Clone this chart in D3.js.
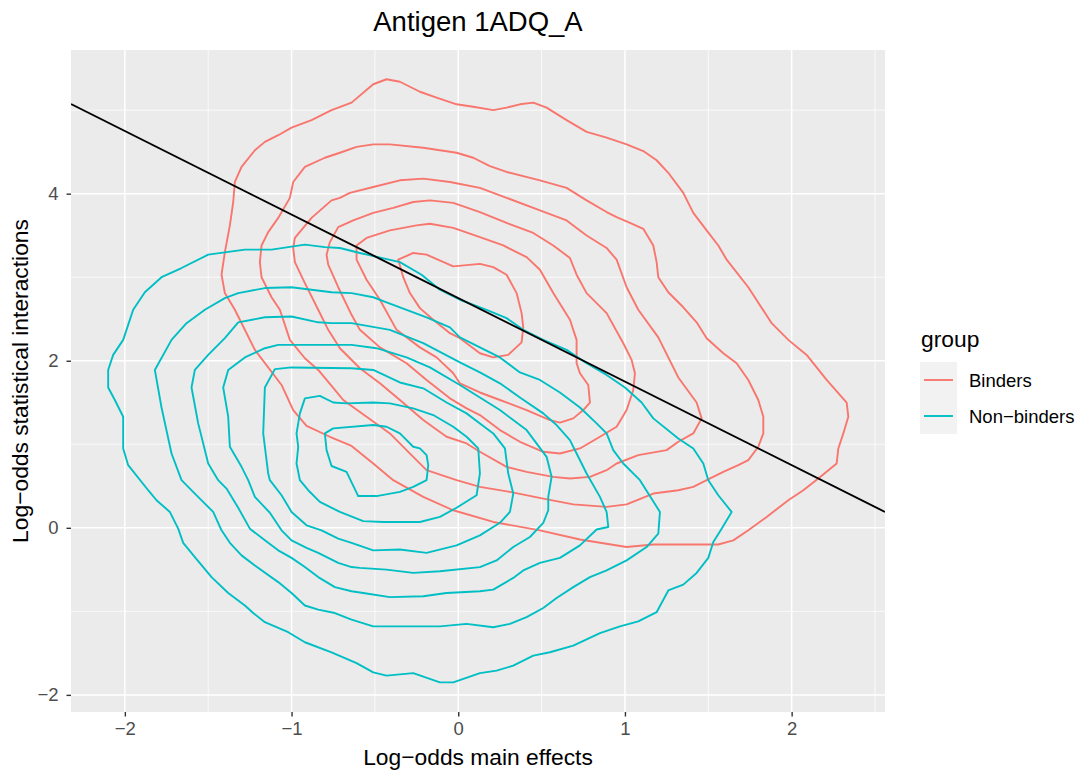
<!DOCTYPE html>
<html>
<head>
<meta charset="utf-8">
<script src="https://cdn.jsdelivr.net/npm/d3@7"></script>
<style>
  body { margin: 0; background: #ffffff; }
  text { font-family: "Liberation Sans", Arial, sans-serif; }
</style>
</head>
<body>
<div id="chart"></div>
<script>
// tick values
var xTicks = [-2, -1, 0, 1, 2];
var yTicks = [-2, 0, 2, 4];
var xMinor = [-1.5, -0.5, 0.5, 1.5, 2.5];
var yMinor = [-1, 1, 3, 5];

// decision line: y = intercept + slope * x
var lineIntercept = 2.75;
var lineSlope = -1.0;

// density contours, Binders (outer to inner)
var binders1 = [[-1.42,3.03],[-1.40,3.30],[-1.37,3.62],[-1.35,3.90],[-1.34,4.14],[-1.30,4.32],[-1.22,4.52],[-1.16,4.62],[-1.08,4.70],[-1.00,4.79],[-0.88,4.88],[-0.76,5.00],[-0.64,5.09],[-0.51,5.31],[-0.43,5.37],[-0.35,5.34],[-0.23,5.22],[-0.13,5.15],[-0.01,5.07],[0.09,5.04],[0.21,5.00],[0.29,5.03],[0.37,5.07],[0.45,5.09],[0.53,5.03],[0.65,4.88],[0.77,4.74],[0.89,4.67],[1.01,4.59],[1.11,4.51],[1.19,4.40],[1.26,4.25],[1.35,4.01],[1.41,3.77],[1.49,3.56],[1.56,3.38],[1.61,3.21],[1.74,2.88],[1.88,2.45],[1.98,2.25],[2.09,2.07],[2.21,1.77],[2.33,1.50],[2.34,1.33],[2.31,1.13],[2.28,0.95],[2.27,0.77],[2.16,0.59],[2.07,0.45],[1.98,0.33],[1.85,0.13],[1.74,-0.03],[1.65,-0.15],[1.56,-0.20],[1.29,-0.20],[1.17,-0.20],[1.01,-0.23],[0.73,-0.14],[0.49,-0.03],[0.21,0.07],[-0.03,0.21],[-0.21,0.37],[-0.39,0.57],[-0.51,0.77],[-0.64,0.98],[-0.77,1.09],[-0.91,1.22],[-0.99,1.41],[-1.06,1.71],[-1.22,2.13],[-1.34,2.61],[-1.40,2.81]];
var binders2 = [[-1.19,3.18],[-1.18,3.38],[-1.14,3.54],[-1.08,3.71],[-1.01,3.95],[-0.99,4.14],[-0.92,4.32],[-0.80,4.43],[-0.71,4.49],[-0.61,4.56],[-0.51,4.59],[-0.41,4.59],[-0.21,4.55],[-0.01,4.49],[0.09,4.43],[0.19,4.33],[0.29,4.26],[0.49,4.16],[0.65,4.07],[0.77,3.92],[0.89,3.78],[0.95,3.72],[1.02,3.66],[1.11,3.58],[1.17,3.38],[1.19,3.18],[1.20,3.00],[1.26,2.82],[1.35,2.64],[1.43,2.46],[1.49,2.27],[1.59,2.09],[1.67,1.97],[1.74,1.77],[1.80,1.53],[1.83,1.33],[1.83,1.13],[1.80,0.97],[1.74,0.81],[1.68,0.75],[1.59,0.67],[1.49,0.57],[1.41,0.49],[1.32,0.45],[1.17,0.41],[1.01,0.28],[0.89,0.25],[0.69,0.28],[0.51,0.35],[0.31,0.43],[0.13,0.49],[-0.01,0.57],[-0.19,0.69],[-0.27,0.85],[-0.41,1.13],[-0.55,1.33],[-0.69,1.53],[-0.74,1.65],[-0.84,1.89],[-0.92,2.03],[-1.01,2.25],[-1.07,2.61],[-1.12,2.76],[-1.18,3.00]];
var binders3 = [[-0.71,3.95],[-0.65,4.01],[-0.51,4.08],[-0.35,4.16],[-0.21,4.18],[-0.05,4.14],[0.13,4.07],[0.29,3.95],[0.49,3.80],[0.65,3.68],[0.77,3.50],[0.89,3.35],[0.95,3.21],[1.01,2.88],[1.08,2.61],[1.20,2.28],[1.32,1.80],[1.43,1.50],[1.46,1.31],[1.41,1.13],[1.32,1.03],[1.25,0.93],[1.08,0.87],[0.95,0.77],[0.89,0.69],[0.79,0.61],[0.67,0.59],[0.57,0.61],[0.41,0.67],[0.29,0.73],[0.13,0.91],[0.05,1.01],[-0.07,1.09],[-0.21,1.29],[-0.35,1.53],[-0.47,1.73],[-0.59,1.91],[-0.71,2.15],[-0.78,2.37],[-0.84,2.61],[-0.92,2.93],[-0.98,3.18],[-0.99,3.35],[-0.98,3.47],[-0.88,3.71],[-0.76,3.92]];
var binders4 = [[-0.63,3.68],[-0.51,3.77],[-0.39,3.83],[-0.27,3.90],[-0.17,3.92],[-0.03,3.89],[0.13,3.78],[0.29,3.65],[0.45,3.53],[0.57,3.38],[0.67,3.23],[0.71,3.03],[0.77,2.81],[0.89,2.57],[0.99,2.21],[1.04,2.01],[1.06,1.85],[1.05,1.65],[1.01,1.41],[0.95,1.21],[0.85,1.09],[0.73,0.95],[0.61,0.89],[0.51,0.91],[0.37,1.03],[0.25,1.17],[0.13,1.35],[0.05,1.43],[-0.05,1.55],[-0.19,1.77],[-0.31,1.97],[-0.47,2.16],[-0.59,2.37],[-0.64,2.55],[-0.72,2.88],[-0.78,3.15],[-0.79,3.27],[-0.77,3.42],[-0.72,3.60]];
var binders5 = [[-0.61,3.38],[-0.55,3.47],[-0.41,3.56],[-0.25,3.62],[-0.17,3.64],[-0.03,3.59],[0.13,3.48],[0.27,3.38],[0.41,3.24],[0.49,3.09],[0.57,2.81],[0.67,2.49],[0.71,2.25],[0.71,1.97],[0.73,1.85],[0.78,1.71],[0.79,1.50],[0.75,1.41],[0.69,1.31],[0.61,1.26],[0.55,1.29],[0.41,1.41],[0.25,1.53],[0.13,1.62],[0.01,1.73],[-0.03,1.85],[-0.13,2.04],[-0.23,2.16],[-0.37,2.37],[-0.47,2.73],[-0.55,2.97],[-0.61,3.21]];
var binders6 = [[-0.36,3.21],[-0.27,3.29],[-0.19,3.27],[-0.03,3.13],[0.13,3.16],[0.21,3.12],[0.29,3.03],[0.35,2.81],[0.38,2.57],[0.39,2.40],[0.38,2.22],[0.30,2.07],[0.21,2.04],[0.13,2.09],[0.01,2.27],[-0.05,2.33],[-0.15,2.49],[-0.23,2.63],[-0.29,2.81],[-0.33,3.00]];

// density contours, Non-binders (outer to inner)
var nonBinders1 = [[-1.86,0.45],[-1.98,0.75],[-2.01,0.95],[-2.01,1.33],[-2.06,1.53],[-2.10,1.68],[-2.10,1.89],[-2.07,2.07],[-2.01,2.25],[-1.95,2.61],[-1.88,2.82],[-1.78,3.00],[-1.66,3.11],[-1.50,3.27],[-1.28,3.33],[-1.12,3.33],[-0.92,3.39],[-0.80,3.36],[-0.71,3.35],[-0.59,3.29],[-0.35,3.18],[-0.22,3.03],[-0.11,2.85],[0.01,2.73],[0.17,2.61],[0.29,2.51],[0.39,2.37],[0.51,2.25],[0.65,2.13],[0.77,1.97],[0.89,1.83],[1.00,1.68],[1.10,1.50],[1.17,1.31],[1.32,1.07],[1.41,0.95],[1.47,0.77],[1.50,0.57],[1.56,0.39],[1.64,0.19],[1.58,-0.01],[1.53,-0.17],[1.50,-0.36],[1.43,-0.54],[1.35,-0.68],[1.26,-0.75],[1.19,-1.01],[1.08,-1.12],[0.97,-1.18],[0.85,-1.26],[0.69,-1.41],[0.55,-1.49],[0.45,-1.53],[0.33,-1.65],[0.23,-1.71],[0.13,-1.74],[-0.03,-1.85],[-0.11,-1.85],[-0.27,-1.74],[-0.43,-1.77],[-0.51,-1.73],[-0.61,-1.62],[-0.76,-1.49],[-0.92,-1.37],[-1.02,-1.25],[-1.16,-1.13],[-1.23,-1.02],[-1.28,-0.93],[-1.38,-0.78],[-1.48,-0.59],[-1.58,-0.35],[-1.65,-0.18],[-1.68,-0.01],[-1.73,0.19],[-1.81,0.33]];
var nonBinders2 = [[-0.64,2.81],[-0.76,2.82],[-1.00,2.88],[-1.16,2.87],[-1.32,2.81],[-1.40,2.75],[-1.52,2.61],[-1.63,2.45],[-1.72,2.25],[-1.82,1.89],[-1.78,1.44],[-1.72,0.89],[-1.66,0.57],[-1.58,0.41],[-1.47,0.19],[-1.42,-0.03],[-1.37,-0.18],[-1.30,-0.33],[-1.22,-0.45],[-1.08,-0.65],[-1.00,-0.78],[-0.92,-0.93],[-0.84,-0.98],[-0.74,-1.02],[-0.64,-1.10],[-0.51,-1.18],[-0.31,-1.18],[-0.11,-1.18],[0.05,-1.15],[0.21,-1.19],[0.31,-1.15],[0.41,-1.07],[0.51,-0.96],[0.59,-0.84],[0.69,-0.71],[0.79,-0.59],[0.89,-0.51],[1.01,-0.39],[1.13,-0.23],[1.20,-0.07],[1.21,0.19],[1.14,0.41],[1.09,0.57],[0.99,0.77],[0.93,0.93],[0.89,1.13],[0.83,1.25],[0.73,1.44],[0.61,1.62],[0.49,1.77],[0.37,1.86],[0.25,2.04],[0.13,2.16],[0.01,2.28],[-0.05,2.40],[-0.19,2.52],[-0.31,2.61],[-0.43,2.70],[-0.51,2.76]];
var nonBinders3 = [[-0.64,2.45],[-0.76,2.45],[-0.84,2.46],[-1.00,2.53],[-1.16,2.52],[-1.32,2.46],[-1.40,2.27],[-1.50,2.07],[-1.58,1.89],[-1.60,1.68],[-1.56,1.25],[-1.50,0.77],[-1.44,0.57],[-1.39,0.47],[-1.32,0.24],[-1.25,-0.01],[-1.16,-0.15],[-1.08,-0.27],[-1.00,-0.36],[-0.92,-0.47],[-0.84,-0.59],[-0.74,-0.71],[-0.64,-0.76],[-0.57,-0.78],[-0.41,-0.83],[-0.21,-0.82],[-0.07,-0.78],[0.13,-0.76],[0.21,-0.74],[0.33,-0.60],[0.39,-0.51],[0.49,-0.42],[0.61,-0.36],[0.73,-0.21],[0.83,-0.02],[0.90,0.01],[0.89,0.19],[0.85,0.37],[0.77,0.65],[0.71,0.89],[0.67,1.05],[0.59,1.23],[0.51,1.37],[0.37,1.56],[0.25,1.73],[0.13,1.86],[0.01,1.98],[-0.21,2.21],[-0.41,2.37]];
var nonBinders4 = [[-0.64,2.19],[-1.08,2.19],[-1.16,2.15],[-1.28,2.04],[-1.38,1.89],[-1.41,1.68],[-1.38,1.33],[-1.37,0.97],[-1.30,0.73],[-1.26,0.57],[-1.22,0.37],[-1.13,0.18],[-1.06,-0.03],[-1.00,-0.15],[-0.91,-0.24],[-0.84,-0.30],[-0.72,-0.42],[-0.64,-0.47],[-0.59,-0.48],[-0.43,-0.50],[-0.27,-0.54],[-0.11,-0.52],[0.13,-0.47],[0.23,-0.39],[0.33,-0.23],[0.43,-0.11],[0.51,0.06],[0.54,0.21],[0.54,0.37],[0.56,0.61],[0.53,0.85],[0.41,1.17],[0.25,1.41],[0.13,1.56],[0.01,1.71],[-0.17,1.92],[-0.31,2.04],[-0.49,2.15]];
var nonBinders5 = [[-0.64,1.91],[-1.00,1.92],[-1.10,1.90],[-1.16,1.68],[-1.17,1.13],[-1.14,0.65],[-1.13,0.57],[-1.06,0.39],[-1.00,0.19],[-0.91,0.03],[-0.82,-0.03],[-0.72,-0.13],[-0.64,-0.18],[-0.51,-0.27],[-0.35,-0.26],[-0.19,-0.30],[-0.01,-0.21],[0.13,-0.09],[0.25,0.06],[0.31,0.19],[0.33,0.41],[0.30,0.65],[0.28,0.95],[0.21,1.13],[0.13,1.25],[0.05,1.37],[-0.07,1.50],[-0.21,1.67],[-0.35,1.74],[-0.51,1.89]];
var nonBinders6 = [[-0.92,1.55],[-0.83,1.58],[-0.75,1.50],[-0.67,1.49],[-0.51,1.50],[-0.41,1.49],[-0.27,1.43],[-0.15,1.35],[-0.03,1.21],[0.05,1.09],[0.12,0.95],[0.13,0.65],[0.11,0.39],[-0.01,0.24],[-0.11,0.13],[-0.23,0.07],[-0.45,0.07],[-0.57,0.08],[-0.71,0.19],[-0.83,0.31],[-0.90,0.45],[-0.95,0.57],[-0.97,0.77],[-0.96,0.97],[-0.97,1.13],[-0.95,1.37]];
var nonBinders7 = [[-0.80,1.13],[-0.75,1.19],[-0.51,1.23],[-0.43,1.21],[-0.35,1.13],[-0.27,0.97],[-0.23,0.95],[-0.19,0.87],[-0.18,0.75],[-0.19,0.57],[-0.27,0.49],[-0.35,0.43],[-0.49,0.38],[-0.60,0.38],[-0.67,0.67],[-0.76,0.74],[-0.79,0.93]];

var groups = ["Binders", "Non\u2212binders"];
var groupColors = ["#F8766D", "#00BFC4"];
var contours = [
  {group: 0, rings: [binders1, binders2, binders3, binders4, binders5, binders6]},
  {group: 1, rings: [nonBinders1, nonBinders2, nonBinders3, nonBinders4, nonBinders5, nonBinders6, nonBinders7]}
];

// set the dimensions and margins of the graph
var margin = {top: 50, right: 195, bottom: 60, left: 71},
    width = 1080 - margin.left - margin.right,
    height = 772 - margin.top - margin.bottom;

var svgRoot = d3.select("#chart")
  .append("svg")
    .attr("width", 1080)
    .attr("height", 772);

var svg = svgRoot.append("g")
    .attr("transform", "translate(" + margin.left + "," + margin.top + ")");

var x = d3.scaleLinear().domain([-2.323, 2.560]).range([0, width]);
var y = d3.scaleLinear().domain([-2.205, 5.720]).range([height, 0]);

// panel background
svg.append("rect")
  .attr("width", width)
  .attr("height", height)
  .attr("fill", "#EBEBEB");

// grid lines
svg.selectAll("xminor").data(xMinor).enter().append("line")
  .attr("x1", function(d) { return x(d); }).attr("x2", function(d) { return x(d); })
  .attr("y1", 0).attr("y2", height)
  .attr("stroke", "white").attr("stroke-width", 0.75);
svg.selectAll("yminor").data(yMinor).enter().append("line")
  .attr("y1", function(d) { return y(d); }).attr("y2", function(d) { return y(d); })
  .attr("x1", 0).attr("x2", width)
  .attr("stroke", "white").attr("stroke-width", 0.75);
svg.selectAll("xmajor").data(xTicks).enter().append("line")
  .attr("x1", function(d) { return x(d); }).attr("x2", function(d) { return x(d); })
  .attr("y1", 0).attr("y2", height)
  .attr("stroke", "white").attr("stroke-width", 1.5);
svg.selectAll("ymajor").data(yTicks).enter().append("line")
  .attr("y1", function(d) { return y(d); }).attr("y2", function(d) { return y(d); })
  .attr("x1", 0).attr("x2", width)
  .attr("stroke", "white").attr("stroke-width", 1.5);

svgRoot.append("clipPath").attr("id", "panel")
  .append("rect").attr("width", width).attr("height", height);

var plot = svg.append("g").attr("clip-path", "url(#panel)");

var path = d3.line()
  .x(function(d) { return x(d[0]); })
  .y(function(d) { return y(d[1]); });

// contours
contours.forEach(function(c) {
  plot.selectAll("ring" + c.group)
    .data(c.rings)
    .enter()
    .append("path")
      .attr("d", function(d) { return path(d) + "Z"; })
      .attr("fill", "none")
      .attr("stroke", groupColors[c.group])
      .attr("stroke-width", 1.9)
      .attr("stroke-linejoin", "round");
});

// abline
var xEnds = x.domain();
plot.append("line")
  .attr("x1", x(xEnds[0]))
  .attr("y1", y(lineIntercept + lineSlope * xEnds[0]))
  .attr("x2", x(xEnds[1]))
  .attr("y2", y(lineIntercept + lineSlope * xEnds[1]))
  .attr("stroke", "black")
  .attr("stroke-width", 1.9);

var fmt = function(d) { return d3.format("d")(d); };

// X axis
var xAxis = svg.append("g")
  .attr("transform", "translate(0," + height + ")")
  .call(d3.axisBottom(x).tickValues(xTicks).tickSize(4.5).tickPadding(5.5).tickFormat(fmt));
// Y axis
var yAxis = svg.append("g")
  .call(d3.axisLeft(y).tickValues(yTicks).tickSize(4.5).tickPadding(8).tickFormat(fmt));

[xAxis, yAxis].forEach(function(a) {
  a.select(".domain").remove();
  a.selectAll(".tick line").attr("stroke", "#333333").attr("stroke-width", 1.4);
  a.selectAll(".tick text")
    .attr("fill", "#4D4D4D")
    .style("font-size", "18.5px")
    .style("font-family", "'Liberation Sans', Arial, sans-serif");
});

// titles
svgRoot.append("text")
  .attr("x", margin.left + width / 2)
  .attr("y", 31)
  .attr("text-anchor", "middle")
  .style("font-size", "27.5px")
  .text("Antigen 1ADQ_A");

svgRoot.append("text")
  .attr("x", margin.left + width / 2)
  .attr("y", 765)
  .attr("text-anchor", "middle")
  .style("font-size", "22.8px")
  .text("Log\u2212odds main effects");

svgRoot.append("text")
  .attr("transform", "translate(28," + (margin.top + height / 2) + ") rotate(-90)")
  .attr("text-anchor", "middle")
  .style("font-size", "22.8px")
  .text("Log\u2212odds statistical interactions");

// legend
var legend = svgRoot.append("g").attr("transform", "translate(920,0)");
legend.append("text")
  .attr("x", 1)
  .attr("y", 347)
  .style("font-size", "22.8px")
  .text("group");

legend.selectAll("keybg")
  .data(groups)
  .enter()
  .append("rect")
    .attr("x", 0)
    .attr("y", function(d, i) { return 362 + i * 36; })
    .attr("width", 37)
    .attr("height", 36)
    .attr("fill", "#F2F2F2");

legend.selectAll("keyline")
  .data(groups)
  .enter()
  .append("line")
    .attr("x1", 4).attr("x2", 33)
    .attr("y1", function(d, i) { return 380 + i * 36; })
    .attr("y2", function(d, i) { return 380 + i * 36; })
    .attr("stroke", function(d, i) { return groupColors[i]; })
    .attr("stroke-width", 1.9);

legend.selectAll("keylabel")
  .data(groups)
  .enter()
  .append("text")
    .attr("x", 49)
    .attr("y", function(d, i) { return 387 + i * 36; })
    .style("font-size", "18.5px")
    .text(function(d) { return d; });
</script>
</body>
</html>
